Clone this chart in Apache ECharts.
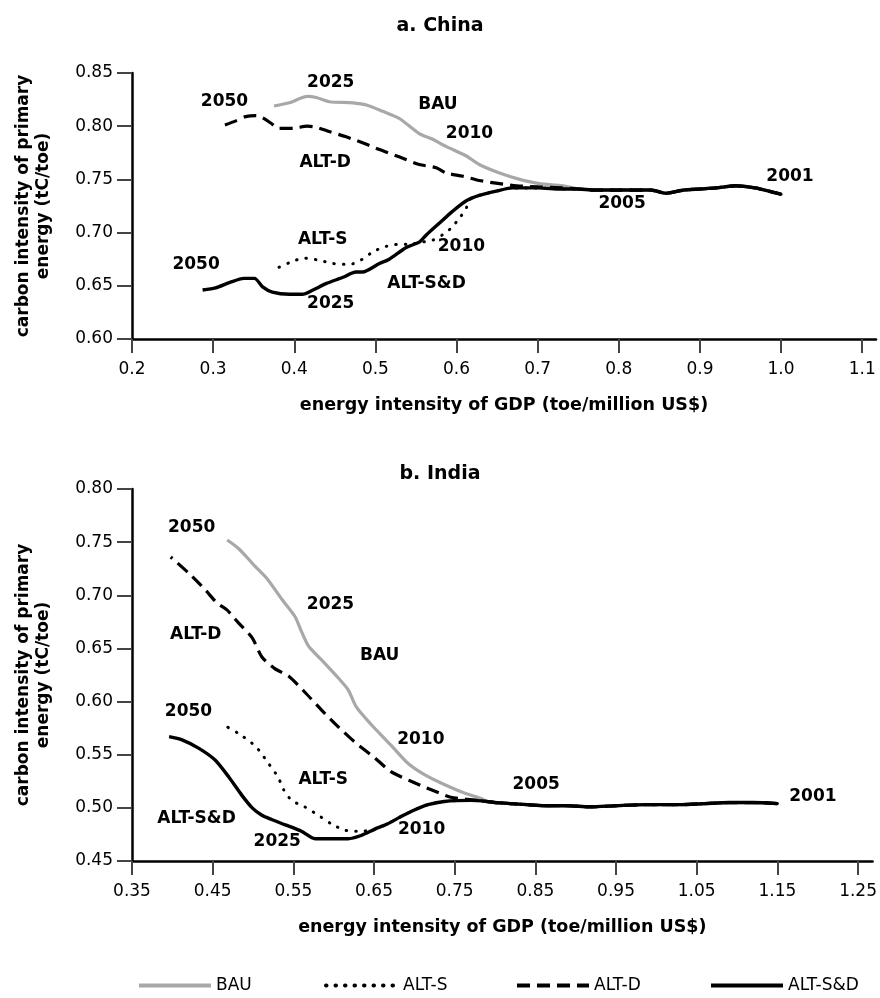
<!DOCTYPE html>
<html>
<head>
<meta charset="utf-8">
<script src="https://cdn.jsdelivr.net/npm/echarts@6/dist/echarts.min.js"></script>
<style>html,body{margin:0;padding:0;background:#fff}#chart{width:880px;height:998px}</style>
</head>
<body>
<div id="chart"></div>
<script>
// ---------- data (x = energy intensity of GDP, y = carbon intensity) ----------
// China: shared 2001-2005 path
var chinaCommon = [[1.000,0.736],[0.985,0.739],[0.968,0.742],[0.944,0.744],[0.920,0.742],[0.900,0.741],[0.880,0.740],[0.858,0.737],[0.840,0.740],[0.800,0.740],[0.770,0.740],[0.750,0.741]];
var chinaBAU = [[0.731,0.744],[0.702,0.746],[0.678,0.750],[0.653,0.756],[0.628,0.764],[0.612,0.772],[0.587,0.781],[0.570,0.788],[0.554,0.793],[0.530,0.807],[0.509,0.814],[0.489,0.820],[0.472,0.822],[0.443,0.823],[0.427,0.827],[0.416,0.828],[0.394,0.822],[0.375,0.819]];
var chinaALTS = [[0.730,0.741],[0.700,0.742],[0.669,0.742],[0.649,0.739],[0.628,0.735],[0.616,0.731],[0.612,0.723],[0.604,0.714],[0.593,0.704],[0.583,0.698],[0.571,0.693],[0.556,0.691],[0.542,0.689],[0.528,0.689],[0.513,0.687],[0.497,0.682],[0.484,0.675],[0.468,0.670],[0.447,0.671],[0.431,0.674],[0.412,0.676],[0.398,0.673],[0.377,0.666]];
var chinaALTD = [[0.730,0.742],[0.700,0.743],[0.674,0.744],[0.653,0.746],[0.628,0.749],[0.608,0.753],[0.587,0.756],[0.575,0.761],[0.554,0.764],[0.530,0.771],[0.505,0.778],[0.489,0.783],[0.464,0.790],[0.443,0.795],[0.427,0.799],[0.416,0.800],[0.398,0.798],[0.381,0.798],[0.371,0.803],[0.361,0.808],[0.353,0.810],[0.340,0.809],[0.328,0.805],[0.307,0.799]];
var chinaALTSD = [[0.730,0.741],[0.700,0.742],[0.669,0.742],[0.649,0.739],[0.628,0.735],[0.612,0.730],[0.595,0.720],[0.579,0.709],[0.563,0.698],[0.554,0.691],[0.538,0.686],[0.517,0.675],[0.505,0.671],[0.484,0.663],[0.476,0.663],[0.460,0.658],[0.439,0.652],[0.423,0.646],[0.410,0.642],[0.394,0.642],[0.373,0.644],[0.361,0.649],[0.351,0.657],[0.338,0.657],[0.320,0.653],[0.303,0.648],[0.287,0.646]];
var chinaNotes = [[0.314,0.823,'2050'],[0.445,0.841,'2025'],[0.577,0.820,'BAU'],[0.616,0.793,'2010'],[0.438,0.766,'ALT-D'],[0.804,0.727,'2005'],[1.011,0.753,'2001'],[0.435,0.693,'ALT-S'],[0.606,0.687,'2010'],[0.279,0.670,'2050'],[0.563,0.652,'ALT-S&D'],[0.445,0.633,'2025']];

// India: shared 2001-2005 path
var indiaCommon = [[1.150,0.504],[1.120,0.505],[1.090,0.505],[1.060,0.504],[1.028,0.503],[0.986,0.503],[0.950,0.502],[0.917,0.501],[0.890,0.502],[0.861,0.502],[0.840,0.503],[0.819,0.504],[0.800,0.505],[0.790,0.506]];
var indiaBAU = [[0.782,0.509],[0.762,0.514],[0.737,0.522],[0.713,0.531],[0.692,0.542],[0.671,0.559],[0.647,0.578],[0.628,0.595],[0.618,0.611],[0.606,0.622],[0.589,0.636],[0.569,0.652],[0.560,0.666],[0.552,0.680],[0.536,0.696],[0.517,0.716],[0.503,0.727],[0.482,0.744],[0.468,0.752]];
var indiaALTS = [[0.770,0.507],[0.737,0.506],[0.717,0.503],[0.700,0.498],[0.684,0.492],[0.667,0.485],[0.651,0.480],[0.634,0.478],[0.614,0.479],[0.597,0.485],[0.581,0.493],[0.564,0.501],[0.548,0.507],[0.538,0.517],[0.531,0.529],[0.519,0.542],[0.503,0.558],[0.482,0.570],[0.461,0.579]];
var indiaALTD = [[0.766,0.508],[0.745,0.510],[0.721,0.517],[0.696,0.525],[0.671,0.534],[0.651,0.547],[0.626,0.562],[0.606,0.576],[0.585,0.592],[0.564,0.609],[0.544,0.624],[0.527,0.631],[0.511,0.642],[0.499,0.660],[0.482,0.674],[0.468,0.686],[0.455,0.693],[0.441,0.705],[0.420,0.721],[0.398,0.736]];
var indiaALTSD = [[0.770,0.507],[0.737,0.506],[0.717,0.503],[0.700,0.498],[0.684,0.492],[0.667,0.485],[0.651,0.480],[0.634,0.474],[0.618,0.471],[0.597,0.471],[0.577,0.471],[0.560,0.478],[0.540,0.484],[0.523,0.489],[0.511,0.493],[0.499,0.500],[0.486,0.512],[0.470,0.529],[0.453,0.545],[0.433,0.556],[0.412,0.564],[0.396,0.567]];
var indiaNotes = [[0.424,0.764,'2050'],[0.596,0.691,'2025'],[0.429,0.663,'ALT-D'],[0.657,0.643,'BAU'],[0.420,0.591,'2050'],[0.708,0.564,'2010'],[0.587,0.527,'ALT-S'],[0.851,0.522,'2005'],[1.194,0.511,'2001'],[0.430,0.490,'ALT-S&D'],[0.709,0.480,'2010'],[0.530,0.468,'2025']];

var chinaXTicks = [0.2,0.3,0.4,0.5,0.6,0.7,0.8,0.9,1.0,1.1];
var indiaXTicks = [0.35,0.45,0.55,0.65,0.75,0.85,0.95,1.05,1.15,1.25];
var seriesNames = ['BAU','ALT-S','ALT-D','ALT-S&D'];
var panelTitles = ['a. China','b. India'];

// ---------- chart ----------
var FONT = 'DejaVu Sans';
var styles = {
  'BAU':     {color:'#a8a8a8', width:3.2, type:'solid', cap:'butt'},
  'ALT-S':   {color:'#000', width:3, type:[0.5,9], cap:'round'},
  'ALT-D':   {color:'#000', width:3.2, type:[13,7], cap:'butt'},
  'ALT-S&D': {color:'#000', width:3.4, type:'solid', cap:'butt'}
};
function lineSeries(name, data, idx){
  var s = styles[name];
  return {type:'line', name:name, xAxisIndex:idx, yAxisIndex:idx, data:data,
    showSymbol:false, symbol:'none', smooth:0.25, silent:true,
    color:s.color,
    lineStyle:{color:s.color, width:s.width, type:s.type, cap:s.cap, join:'round'},
    itemStyle:{color:s.color}};
}
function noteSeries(data, idx){
  return {type:'scatter', name:'notes'+idx, xAxisIndex:idx, yAxisIndex:idx, data:data,
    symbolSize:1, itemStyle:{color:'rgba(0,0,0,0)'}, silent:true, z:10,
    label:{show:true, position:'inside', formatter:function(p){return p.data[2];},
      color:'#000', opacity:1, textBorderWidth:0, fontFamily:FONT, fontWeight:'bold', fontSize:17}};
}
function xAxis(idx, min, max, ticks, dec){
  return {type:'value', gridIndex:idx, min:min, max:max,
    name:'energy intensity of GDP (toe/million US$)', nameLocation:'middle', nameGap:57,
    nameTextStyle:{fontFamily:FONT, fontWeight:'bold', fontSize:17.5, color:'#000'},
    axisLine:{show:true, onZero:false, lineStyle:{color:'#000', width:2.5}},
    axisTick:{show:true, length:14, customValues:ticks, lineStyle:{color:'#444', width:2}},
    axisLabel:{margin:22, customValues:ticks, fontFamily:FONT, fontSize:17, color:'#000',
      formatter:function(v){return Number(v).toFixed(dec);}},
    splitLine:{show:false}};
}
function yAxis(idx, min, max){
  return {type:'value', gridIndex:idx, min:min, max:max, interval:0.05,
    name:'carbon intensity of primary\nenergy (tC/toe)', nameLocation:'middle', nameGap:78, nameRotate:90,
    nameTextStyle:{fontFamily:FONT, fontWeight:'bold', fontSize:17, color:'#000', lineHeight:20},
    axisLine:{show:true, onZero:false, lineStyle:{color:'#000', width:2.5}},
    axisTick:{show:true, length:15, lineStyle:{color:'#444', width:2}},
    axisLabel:{margin:19, fontFamily:FONT, fontSize:17, color:'#000',
      formatter:function(v){return Number(v).toFixed(2);}},
    splitLine:{show:false}};
}
function legendItem(name, left){
  return {data:[name], left:left, top:972, itemWidth:72, itemHeight:14, selectedMode:false,
    itemStyle:{color:'rgba(0,0,0,0)', borderWidth:0, opacity:0},
    lineStyle:{width:4},
    textStyle:{fontFamily:FONT, fontSize:17, color:'#000', padding:[0,0,0,0]}};
}

var chart = echarts.init(document.getElementById('chart'), null, {renderer:'canvas'});
var series = [];
[['china', chinaCommon, {'BAU':chinaBAU,'ALT-S':chinaALTS,'ALT-D':chinaALTD,'ALT-S&D':chinaALTSD}, chinaNotes],
 ['india', indiaCommon, {'BAU':indiaBAU,'ALT-S':indiaALTS,'ALT-D':indiaALTD,'ALT-S&D':indiaALTSD}, indiaNotes]
].forEach(function(p, idx){
  seriesNames.forEach(function(n){ series.push(lineSeries(n, p[1].concat(p[2][n]), idx)); });
  series.push(noteSeries(p[3], idx));
});

chart.setOption({
  animation:false,
  backgroundColor:'#fff',
  title:[
    {text:panelTitles[0], left:'center', top:12, textStyle:{fontFamily:FONT, fontWeight:'bold', fontSize:19, color:'#000'}},
    {text:panelTitles[1], left:'center', top:460, textStyle:{fontFamily:FONT, fontWeight:'bold', fontSize:19, color:'#000'}}
  ],
  legend:[legendItem('BAU',132), legendItem('ALT-S',319), legendItem('ALT-D',510), legendItem('ALT-S&D',704)],
  grid:[
    {left:132, right:4, top:73, height:266},
    {left:132, right:4, top:489, height:372}
  ],
  xAxis:[xAxis(0, 0.2, 1.117, chinaXTicks, 1), xAxis(1, 0.35, 1.268, indiaXTicks, 2)],
  yAxis:[yAxis(0, 0.60, 0.85), yAxis(1, 0.45, 0.80)],
  series:series
});
</script>
</body>
</html>
